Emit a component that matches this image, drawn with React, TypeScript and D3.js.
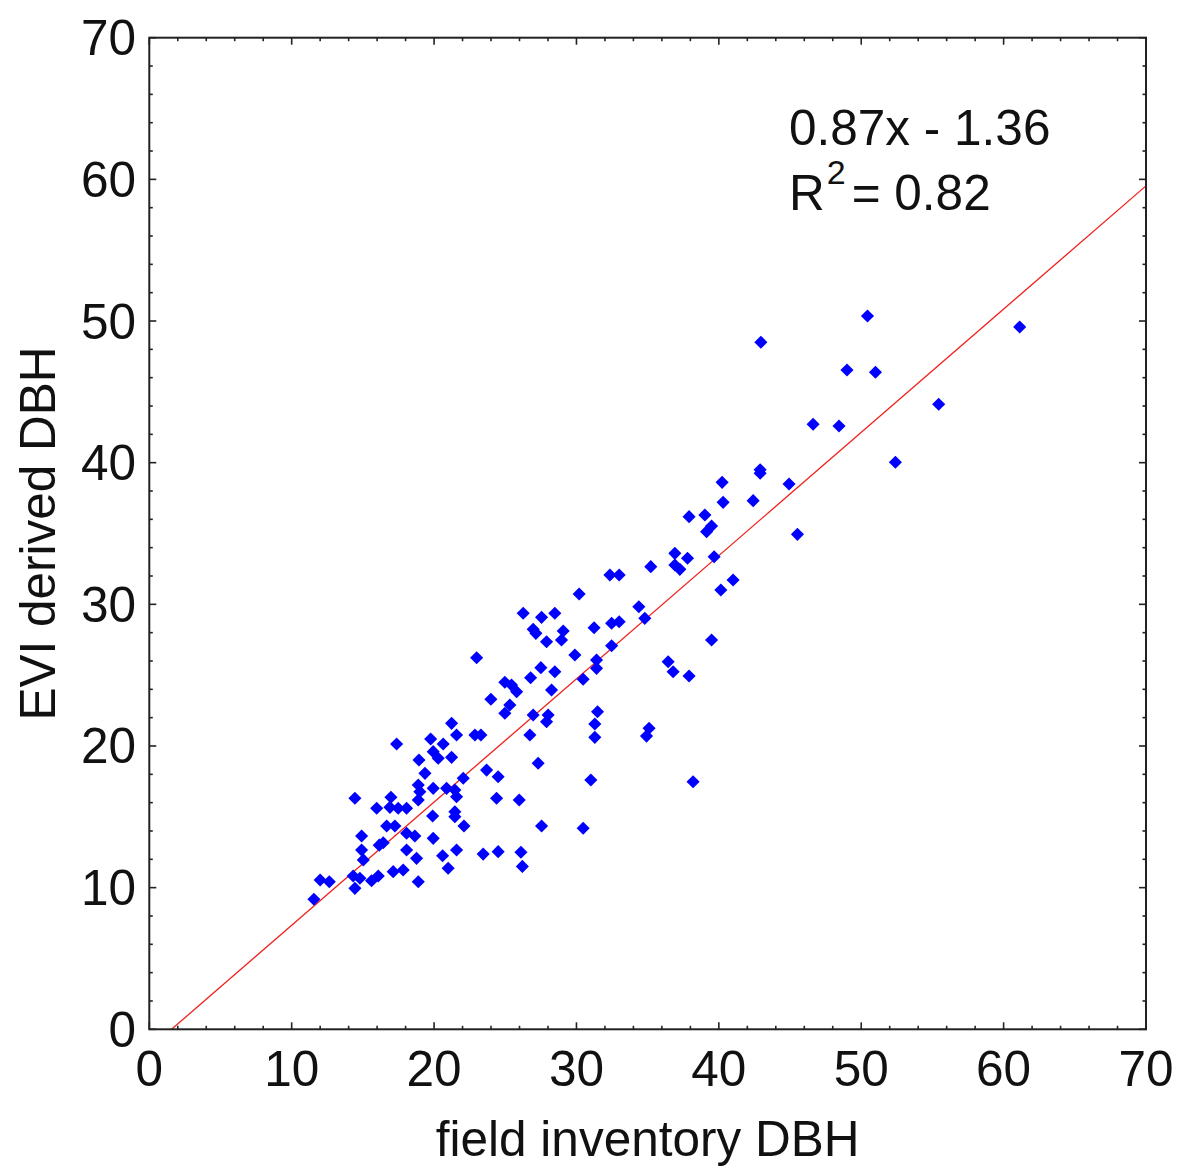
import React from "react";
import * as d3 from "d3";

const fieldDBH: number[] = [
  11.56, 12.0, 12.64, 14.32, 14.79, 14.44, 15.61, 16.08, 14.44, 14.91,
  14.91, 15.03, 16.15, 16.43, 15.97, 16.67, 17.25, 16.97, 16.9, 17.48,
  18.07, 17.37, 17.13, 17.83, 18.07, 18.65, 18.07, 18.77, 18.89, 18.94,
  18.89, 19.0, 18.89, 19.36, 19.76, 19.94, 20.29, 20.64, 19.94, 19.9,
  19.94, 20.6, 20.88, 20.99, 21.23, 21.46, 21.46, 21.58, 21.46, 21.58,
  21.58, 21.23, 22.05, 22.1, 22.87, 23.29, 22.99, 23.45, 23.69, 23.99,
  24.5, 24.39, 24.5, 24.97, 25.44, 25.8, 25.32, 24.97, 25.98, 26.26,
  26.1, 26.2, 26.78, 26.96, 27.15, 27.55, 28.48, 27.5, 28.48, 26.96,
  28.01, 27.9, 26.73, 27.31, 27.55, 27.9, 28.25, 29.07, 28.95, 30.19,
  29.89, 30.47, 30.47, 31.24, 31.41, 31.41, 31.48, 31.29, 31.29, 31.01,
  32.47, 33.0, 32.35, 33.0, 32.47, 34.38, 34.8, 35.22, 34.92, 35.1,
  36.44, 36.79, 36.91, 36.91, 37.26, 37.8, 37.91, 38.19, 37.91, 39.02,
  39.49, 39.14, 39.67, 39.49, 40.23, 40.3, 40.14, 41.0, 42.41, 42.9,
  42.9, 42.95, 44.93, 45.52, 46.62, 48.44, 49.0, 50.44, 51.0, 52.4,
  55.44, 61.13,
];

const eviDBH: number[] = [
  9.18, 10.54, 10.42, 10.82, 10.66, 9.95, 10.49, 10.82, 16.31, 13.65,
  12.66, 11.96, 13.0, 13.17, 15.6, 14.35, 14.35, 16.38, 15.67, 15.6,
  15.6, 20.14, 11.13, 11.25, 13.84, 13.65, 12.66, 12.07, 10.42, 19.01,
  17.25, 16.77, 16.19, 18.07, 20.49, 19.6, 19.13, 20.14, 17.01, 15.06,
  13.48, 12.25, 17.01, 11.37, 21.6, 15.36, 15.01, 20.78, 16.89, 16.42,
  12.66, 19.2, 17.72, 14.35, 20.78, 20.78, 26.23, 12.37, 18.3, 23.3,
  17.83, 16.31, 12.54, 24.5, 24.3, 23.83, 22.89, 22.31, 16.19, 29.37,
  12.5, 11.5, 24.82, 28.24, 27.95, 29.08, 29.37, 25.53, 25.24, 22.19,
  22.19, 21.71, 20.78, 18.78, 14.35, 27.36, 23.95, 28.12, 27.48, 30.73,
  26.42, 24.71, 14.19, 28.35, 26.07, 25.48, 22.42, 21.55, 20.61, 17.6,
  28.66, 28.77, 32.07, 32.07, 27.08, 29.83, 29.01, 32.66, 20.7, 21.25,
  25.95, 25.24, 33.6, 32.78, 32.47, 33.25, 24.94, 17.48, 36.19, 36.31,
  35.53, 35.13, 33.36, 27.48, 38.61, 37.2, 31.01, 31.72, 37.32, 39.5,
  39.25, 48.5, 38.49, 34.94, 42.71, 42.59, 46.54, 50.35, 46.38, 40.03,
  44.12, 49.58,
];

const slope = 0.87;
const intercept = -1.36;
const majorTicks: number[] = [0, 10, 20, 30, 40, 50, 60, 70];
const minorTicks: number[] = d3.range(0, 71, 2).filter((v) => v % 10 !== 0);
const xTitle = "field inventory DBH";
const yTitle = "EVI derived DBH";
const eqText = "0.87x - 1.36";
const r2Label = "R";
const r2Sup = "2";
const r2Value = "= 0.82";

export default function App() {
  const W = 1178;
  const H = 1169;
  const left = 149.3;
  const right = 1146;
  const top = 37.7;
  const bottom = 1029.3;
  const x = d3.scaleLinear().domain([0, 70]).range([left, right]);
  const y = d3.scaleLinear().domain([0, 70]).range([bottom, top]);
  const font = "'Liberation Sans', Arial, sans-serif";
  const fs = 49.5;

  const x0 = -intercept / slope;
  const linePath = d3.line<[number, number]>()
    .x((d) => x(d[0]))
    .y((d) => y(d[1]))([
    [x0, 0],
    [70, slope * 70 + intercept],
  ]);

  const diamond = d3.symbol(d3.symbolSquare, 86)() as string;
  const tickColor = "#222";

  return (
    <svg
      width={W}
      height={H}
      style={{ position: "absolute", left: 0, top: 0, background: "#fff" }}
    >
      <rect x={0} y={0} width={W} height={H} fill="#fff" />
      <path d={linePath || ""} stroke="#f0201c" strokeWidth={1.3} fill="none" />
      {fieldDBH.map((v, i) => (
        <path
          key={i}
          d={diamond}
          transform={`translate(${x(v)},${y(eviDBH[i])}) rotate(45)`}
          fill="#0000ff"
        />
      ))}
      <rect
        x={left}
        y={top}
        width={right - left}
        height={bottom - top}
        fill="none"
        stroke={tickColor}
        strokeWidth={2}
      />
      {majorTicks.concat(minorTicks).map((t, i) => {
        const len = majorTicks.includes(t) ? 7 : 3.5;
        return (
          <g key={"t" + i} stroke={tickColor} strokeWidth={1.6}>
            <line x1={x(t)} x2={x(t)} y1={bottom} y2={bottom - len} />
            <line x1={x(t)} x2={x(t)} y1={top} y2={top + len} />
            <line x1={left} x2={left + len} y1={y(t)} y2={y(t)} />
            <line x1={right} x2={right - len} y1={y(t)} y2={y(t)} />
          </g>
        );
      })}
      {majorTicks.map((t) => (
        <text
          key={"xl" + t}
          x={x(t)}
          y={1086}
          textAnchor="middle"
          fontFamily={font}
          fontSize={fs}
          fill="#111"
        >
          {t}
        </text>
      ))}
      {majorTicks.map((t) => (
        <text
          key={"yl" + t}
          x={136}
          y={y(t) + 17.5}
          textAnchor="end"
          fontFamily={font}
          fontSize={fs}
          fill="#111"
        >
          {t}
        </text>
      ))}
      <text
        x={(left + right) / 2}
        y={1156}
        textAnchor="middle"
        fontFamily={font}
        fontSize={fs}
        fill="#111"
      >
        {xTitle}
      </text>
      <text
        transform={`translate(55,${(top + bottom) / 2}) rotate(-90)`}
        textAnchor="middle"
        fontFamily={font}
        fontSize={fs}
        fill="#111"
      >
        {yTitle}
      </text>
      <text x={789} y={145} fontFamily={font} fontSize={fs} fill="#111">
        {eqText}
      </text>
      <text x={789} y={210} fontFamily={font} fontSize={fs} fill="#111">
        {r2Label}
        <tspan fontSize={34} dy={-26} dx={2}>
          {r2Sup}
        </tspan>
        <tspan dy={26} dx={6}>
          {r2Value}
        </tspan>
      </text>
    </svg>
  );
}
